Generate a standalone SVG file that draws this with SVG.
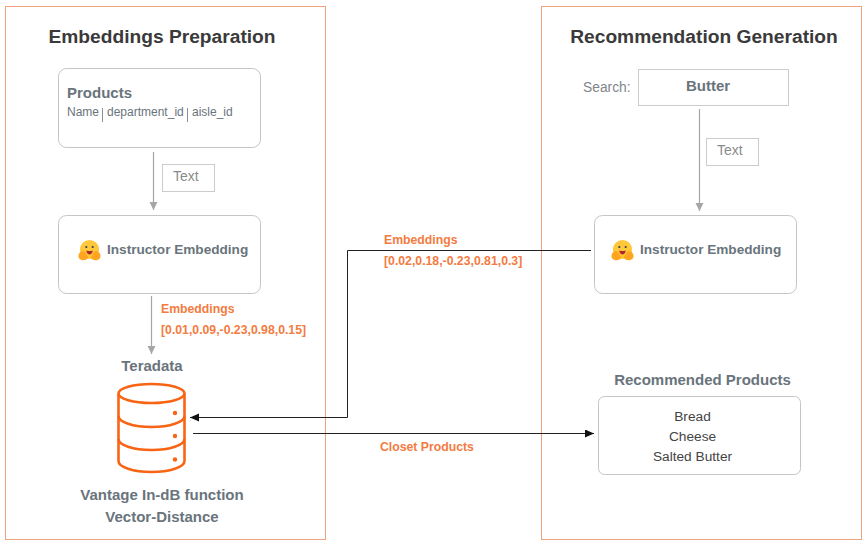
<svg xmlns="http://www.w3.org/2000/svg" width="865" height="545" viewBox="0 0 865 545">
<style>
text{font-family:"Liberation Sans",Arial,sans-serif;fill:#69747c}
.panel{fill:#fff;stroke:#f0a27c;stroke-width:1}
.card{fill:#fff;stroke:#c3c6c9;stroke-width:1}
.box{fill:#fff;stroke:#cccccc;stroke-width:1}
.h{font-size:19.2px;font-weight:bold;fill:#3a3a3a;text-anchor:middle}
.b{font-size:15px;font-weight:bold}
.ie{font-size:13.6px;font-weight:bold}
.m{text-anchor:middle}
.o{font-size:12.25px;font-weight:bold;fill:#f37b3f}
.gl{fill:none;stroke:#a6a6a6;stroke-width:1.2}
.bl{fill:none;stroke:#222222;stroke-width:1}
.db{fill:none;stroke:#f96414;stroke-width:2.6}
.dot{fill:#f96414}
.skin{fill:#ffc83a}
.hand{fill:#ffa51f}
.eye{fill:#3a3b52}
</style>
<defs>
<marker id="ag" markerWidth="9" markerHeight="9" refX="8" refY="4" orient="auto" markerUnits="userSpaceOnUse"><path d="M0 0L8 4L0 8Z" fill="#a6a6a6"/></marker>
<marker id="ab" markerWidth="10" markerHeight="9" refX="9" refY="4" orient="auto" markerUnits="userSpaceOnUse"><path d="M0 0L9 4L0 8Z" fill="#111111"/></marker>
<g id="hug">
<circle cx="0" cy="-0.500" r="9.600" class="skin"/>
<path d="M-9.500 2.500C-12 5-11.500 9-8 10C-5 10.800-2 9.500-1 7.500L-4.500 2C-6 0.500-8 1-9.500 2.500Z" class="hand"/>
<path d="M9.500 2.500C12 5 11.500 9 8 10C5 10.800 2 9.500 1 7.500L4.500 2C6 0.500 8 1 9.500 2.500Z" class="hand"/>
<circle cx="-3.200" cy="-3" r="1.100" class="eye"/><circle cx="3.200" cy="-3" r="1.100" class="eye"/>
<path d="M-3.300 0.500Q0 1.500 3.300 0.500Q2.500 4.500 0 4.500Q-2.500 4.500-3.300 0.500Z" fill="#b0272b"/>
</g>
</defs>
<rect width="865" height="545" fill="#fff"/>
<g id="panel-left"><rect class="panel" x="5.500" y="6.500" width="320" height="533"/><text class="h" x="162" y="43">Embeddings Preparation</text></g>
<g id="panel-right"><rect class="panel" x="541.500" y="6.500" width="320" height="533"/><text class="h" x="704" y="43">Recommendation Generation</text></g>
<g id="connectors">
<path class="gl" d="M153.500 152V210" marker-end="url(#ag)"/>
<path class="gl" d="M151.500 296V354" marker-end="url(#ag)"/>
<path class="gl" d="M699.500 109V211" marker-end="url(#ag)"/>
<path class="bl" d="M591 250.500H347.500V417.500H190" marker-end="url(#ab)"/>
<path class="bl" d="M193 433.500H594" marker-end="url(#ab)"/>
</g>
<g id="products"><rect class="card" x="58.500" y="68.500" width="202" height="79" rx="8"/>
<text class="b" x="67" y="98">Products</text>
<text x="67" y="116" font-size="12">Name</text><text x="107" y="116" font-size="12">department_id</text><text x="192" y="116" font-size="12">aisle_id</text>
<path d="M102.500 108V122M187.500 108V122" stroke="#8a9096" stroke-width="1" fill="none"/></g>
<g id="text-left"><rect class="box" x="162.500" y="164.500" width="52" height="27"/><text x="173" y="181" font-size="14" style="fill:#8b8b8b">Text</text></g>
<g id="embed-left"><rect class="card" x="58.500" y="215.500" width="202" height="78" rx="8"/><use href="#hug" x="89.500" y="250"/><text class="ie" x="107" y="254">Instructor Embedding</text></g>
<g id="embeddings-left"><text class="o" x="161" y="313">Embeddings</text><text class="o" x="161" y="334">[0.01,0.09,-0.23,0.98,0.15]</text></g>
<g id="teradata"><text class="b m" x="152" y="371">Teradata</text>
<ellipse class="db" cx="151.500" cy="393.500" rx="33" ry="9.500"/>
<path class="db" d="M118.500 393.500V461C118.500 467 133 472 151.500 472S184.500 467 184.500 461V393.500"/>
<path class="db" d="M118.500 416C118.500 422 133 427 151.500 427S184.500 422 184.500 416M118.500 439C118.500 445 133 450 151.500 450S184.500 445 184.500 439"/>
<circle class="dot" cx="175" cy="413" r="2.200"/><circle class="dot" cx="175" cy="436" r="2.200"/><circle class="dot" cx="175" cy="459.500" r="2.200"/>
<text class="b m" x="162" y="500">Vantage In-dB function</text><text class="b m" x="162" y="522">Vector-Distance</text></g>
<g id="embeddings-right"><text class="o" x="384" y="244">Embeddings</text><text class="o" x="384" y="265">[0.02,0.18,-0.23,0.81,0.3]</text></g>
<g id="closet"><text class="o" x="380" y="451">Closet Products</text></g>
<g id="search"><text x="583" y="92" font-size="13.800" style="fill:#7f8589">Search:</text><rect class="box" x="638.500" y="69.500" width="150" height="36"/><text class="b m" x="708" y="91">Butter</text></g>
<g id="text-right"><rect class="box" x="706.500" y="138.500" width="52" height="27"/><text x="717" y="155" font-size="14" style="fill:#8b8b8b">Text</text></g>
<g id="embed-right"><rect class="card" x="594.500" y="215.500" width="202" height="78" rx="8"/><use href="#hug" x="622.500" y="250"/><text class="ie" x="640" y="254">Instructor Embedding</text></g>
<g id="recommended"><text class="b m" x="702.500" y="385">Recommended Products</text><rect class="card" x="598.500" y="396.500" width="202" height="78" rx="6"/>
<g font-size="13.700" text-anchor="middle"><text x="692.500" y="421" style="fill:#444">Bread</text><text x="692.500" y="441" style="fill:#444">Cheese</text><text x="692.500" y="461" style="fill:#444">Salted Butter</text></g></g>
</svg>
